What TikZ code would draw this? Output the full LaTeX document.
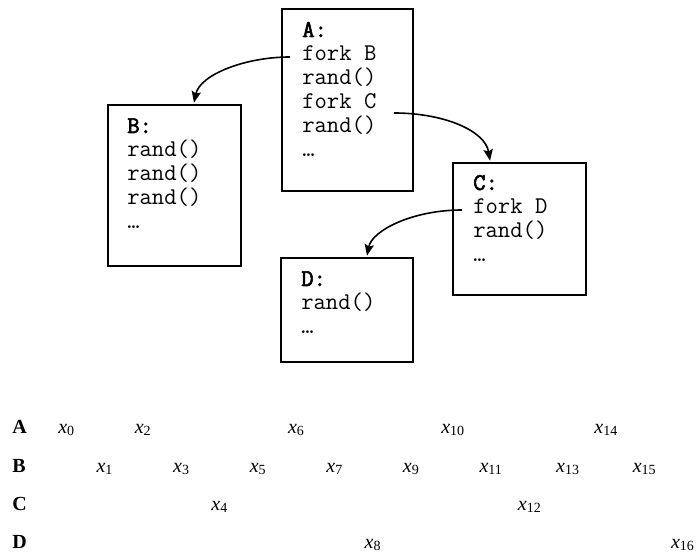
\documentclass[tikz,border=0pt]{standalone}
\usepackage{fontspec}
\setmainfont{Liberation Serif}
\newfontfamily\codebold[FakeBold=2.5]{Latin Modern Mono}
\usetikzlibrary{arrows.meta}
\begin{document}
\begin{tikzpicture}[x=0.75pt,y=-0.75pt,
  box/.style={draw, line width=1.5pt, inner sep=0, fill=white},
  code/.style={anchor=base west, inner sep=0, font=\ttfamily\fontsize{18}{18}\selectfont},
  arr/.style={line width=1.2pt, -{Stealth[length=8.5pt,width=7pt,inset=1.5pt]}},
  rowlab/.style={anchor=base west, inner sep=0, font=\bfseries\fontsize{15}{18}\selectfont},
  lab/.style={anchor=base west, inner sep=0, font=\fontsize{15}{18}\selectfont}]
\useasboundingbox (0,0) rectangle (698,555);
% boxes
\node[box, minimum width=98.25pt, minimum height=136.5pt] (A) at (347.5,100) {};
\node[box, minimum width=99.75pt, minimum height=120.75pt] (B) at (174.5,185.5) {};
\node[box, minimum width=99.75pt, minimum height=99pt] (C) at (519.5,229) {};
\node[box, minimum width=99pt, minimum height=78pt] (D) at (347,310) {};
% code
\node[code] (tA) at (302,37) {\begin{tabular}[t]{@{}l@{}}{\codebold A:}\\fork B\\rand()\\fork C\\rand()\\…\end{tabular}};
\node[code] (tB) at (127,133) {\begin{tabular}[t]{@{}l@{}}{\codebold B:}\\rand()\\rand()\\rand()\\…\end{tabular}};
\node[code] (tC) at (473,190) {\begin{tabular}[t]{@{}l@{}}{\codebold C:}\\fork D\\rand()\\…\end{tabular}};
\node[code] (tD) at (301,286) {\begin{tabular}[t]{@{}l@{}}{\codebold D:}\\rand()\\…\end{tabular}};
% arrows
\coordinate (sB) at (290,57);
\coordinate (sC) at (394,113);
\coordinate (sD) at (462,210);
\draw[arr] (sB) .. controls +(-45,0) and +(6,-28) .. ([xshift=14.6pt,yshift=1pt]B.north);
\draw[arr] (sC) .. controls +(50,0) and +(-5,-30) .. ([xshift=-22.1pt,yshift=1pt]C.north);
\draw[arr] (sD) .. controls +(-50,0) and +(5,-25) .. ([xshift=15pt,yshift=1pt]D.north);
% table
\foreach \r/\y in {A/433,B/472,C/510,D/548}
  \node[rowlab] (row\r) at (12,\y) {\r};
\foreach \i/\y in {0/433,1/472,2/433,3/472,4/510,5/472,6/433,7/472,8/548,9/472,10/433,11/472,12/510,13/472,14/433,15/472,16/548}
  \node[lab] (x\i) at ({58+38.3*\i},\y) {\textit{x}\textsubscript{\i}};
\end{tikzpicture}
\end{document}
